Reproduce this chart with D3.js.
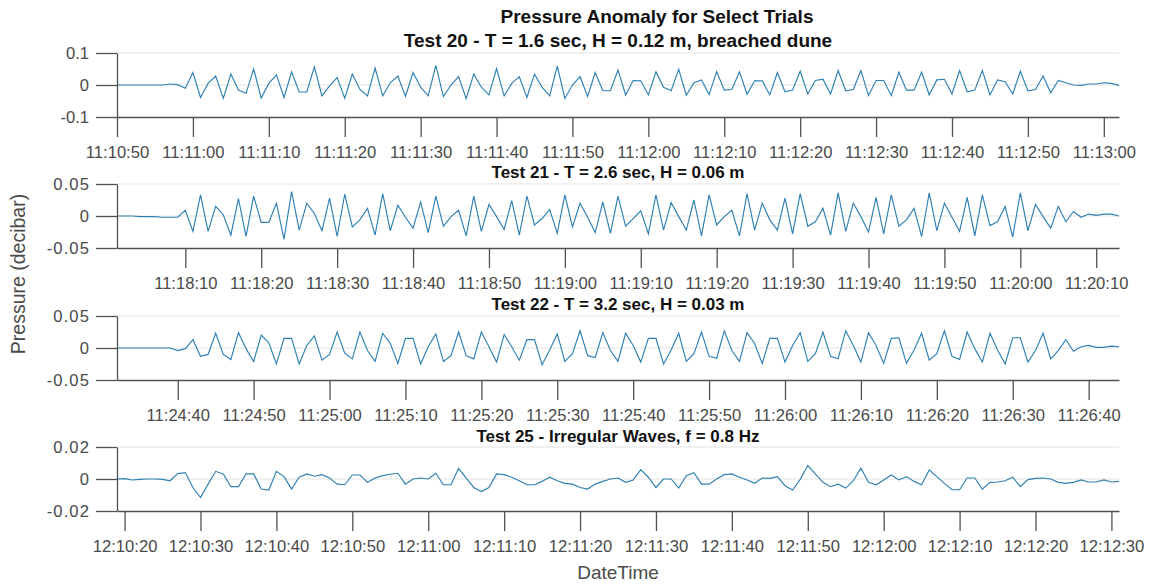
<!DOCTYPE html>
<html><head><meta charset="utf-8">
<script src="https://cdn.jsdelivr.net/npm/d3@7"></script>
<style>
body{margin:0;background:#fff;}
svg{display:block;font-family:"Liberation Sans",Arial,sans-serif;}
</style></head><body>
<svg id="c" width="1149" height="584"></svg>
<script>
const mainTitle = "Pressure Anomaly for Select Trials";
const panelTitles = [
  "Test 20 - T = 1.6 sec, H = 0.12 m, breached dune",
  "Test 21 - T = 2.6 sec, H = 0.06 m",
  "Test 22 - T = 3.2 sec, H = 0.03 m",
  "Test 25 - Irregular Waves, f = 0.8 Hz"
];
const yAxisTitle = "Pressure (decibar)";
const xAxisTitle = "DateTime";
const startTimes = ["11:10:50", "11:18:01", "11:24:32", "12:10:19"];
const yDomains = [[-0.1, 0.1], [-0.05, 0.05], [-0.05, 0.05], [-0.02, 0.02]];
const yTickValues = [[-0.1, 0, 0.1], [-0.05, 0, 0.05], [-0.05, 0, 0.05], [-0.02, 0, 0.02]];
const yTickLabels = [["-0.1", "0", "0.1"], ["-0.05", "0", "0.05"], ["-0.05", "0", "0.05"], ["-0.02", "0", "0.02"]];
const xTickLabels1 = ["11:10:50","11:11:00","11:11:10","11:11:20","11:11:30","11:11:40","11:11:50","11:12:00","11:12:10","11:12:20","11:12:30","11:12:40","11:12:50","11:13:00"];
const xTickLabels2 = ["11:18:10","11:18:20","11:18:30","11:18:40","11:18:50","11:19:00","11:19:10","11:19:20","11:19:30","11:19:40","11:19:50","11:20:00","11:20:10"];
const xTickLabels3 = ["11:24:40","11:24:50","11:25:00","11:25:10","11:25:20","11:25:30","11:25:40","11:25:50","11:26:00","11:26:10","11:26:20","11:26:30","11:26:40"];
const xTickLabels4 = ["12:10:20","12:10:30","12:10:40","12:10:50","12:11:00","12:11:10","12:11:20","12:11:30","12:11:40","12:11:50","12:12:00","12:12:10","12:12:20","12:12:30"];

const test20 = [0,0,0,0,0,0,0,0.003,0.001,-0.010,
0.039,-0.039,0.005,0.028,-0.042,0.034,-0.016,-0.026,0.050,-0.041,
0.005,0.032,-0.039,0.041,-0.022,-0.022,0.057,-0.034,-0.003,0.023,
-0.041,0.034,-0.014,-0.034,0.053,-0.034,0.007,0.028,-0.036,0.039,
-0.007,-0.034,0.061,-0.036,0.000,0.026,-0.043,0.034,-0.007,-0.031,
0.051,-0.034,0.005,0.026,-0.039,0.034,-0.007,-0.034,0.059,-0.042,
0.000,0.026,-0.036,0.039,-0.018,-0.018,0.047,-0.031,0.014,0.013,
-0.031,0.041,-0.007,-0.018,0.049,-0.032,0.007,0.016,-0.030,0.042,
-0.016,-0.014,0.041,-0.029,0.013,0.013,-0.031,0.039,-0.021,-0.016,
0.043,-0.028,0.014,0.018,-0.028,0.045,-0.018,-0.014,0.045,-0.033,
0.014,0.014,-0.033,0.040,-0.016,-0.016,0.040,-0.031,0.016,0.018,
-0.028,0.045,-0.021,-0.016,0.045,-0.031,0.016,0.010,-0.028,0.043,
-0.018,-0.014,0.028,-0.024,0.014,0.007,0.000,-0.001,0.003,0.003,
0.007,0.005,-0.001];

const test21 = [0,0,0,-0.001,-0.001,-0.001,-0.002,-0.002,-0.002,0.009,
-0.024,0.033,-0.024,0.015,0.002,-0.030,0.027,-0.032,0.031,-0.010,
-0.010,0.020,-0.036,0.038,-0.022,0.020,0.004,-0.023,0.028,-0.032,
0.034,-0.017,-0.006,0.012,-0.030,0.035,-0.023,0.017,-0.002,-0.019,
0.022,-0.026,0.031,-0.016,-0.001,0.009,-0.031,0.031,-0.024,0.018,
-0.001,-0.021,0.024,-0.030,0.031,-0.014,-0.004,0.010,-0.027,0.033,
-0.017,0.020,-0.002,-0.026,0.022,-0.027,0.031,-0.016,-0.004,0.008,
-0.028,0.033,-0.022,0.021,-0.001,-0.022,0.025,-0.031,0.033,-0.014,
-0.001,0.009,-0.031,0.035,-0.022,0.020,-0.006,-0.022,0.028,-0.028,
0.035,-0.016,-0.009,0.012,-0.030,0.036,-0.024,0.020,-0.001,-0.025,
0.029,-0.028,0.033,-0.016,-0.006,0.012,-0.032,0.036,-0.023,0.020,
-0.002,-0.024,0.029,-0.031,0.033,-0.015,-0.009,0.015,-0.033,0.036,
-0.023,0.018,-0.001,-0.019,0.015,-0.009,0.007,-0.002,0.003,0.001,
0.003,0.003,0.000];

const test22 = [0,0,0,0,0,0,0,0,-0.004,-0.001,
0.013,-0.013,-0.010,0.023,-0.010,-0.018,0.024,-0.001,-0.021,0.020,
0.008,-0.025,0.015,0.015,-0.025,0.004,0.019,-0.019,-0.010,0.025,
-0.008,-0.017,0.025,-0.004,-0.021,0.023,0.007,-0.024,0.015,0.015,
-0.025,0.002,0.022,-0.021,-0.012,0.025,-0.012,-0.017,0.025,0.002,
-0.022,0.021,0.002,-0.019,0.013,0.013,-0.026,-0.003,0.022,-0.021,
-0.009,0.027,-0.012,-0.015,0.024,-0.004,-0.021,0.023,0.004,-0.022,
0.015,0.015,-0.025,-0.003,0.023,-0.021,-0.009,0.025,-0.013,-0.016,
0.027,-0.004,-0.021,0.024,0.007,-0.024,0.015,0.015,-0.022,0.004,
0.024,-0.021,-0.009,0.025,-0.013,-0.017,0.027,0.004,-0.022,0.024,
0.004,-0.024,0.015,0.016,-0.024,-0.003,0.023,-0.019,-0.009,0.027,
-0.013,-0.018,0.025,-0.001,-0.022,0.023,-0.003,-0.025,0.016,0.016,
-0.022,-0.004,0.023,-0.017,-0.004,0.013,-0.005,0.002,0.004,0.001,
0.001,0.003,0.002];

const test25 = [0,0.0002,-0.0006,-0.0002,0,0,-0.0002,-0.0011,0.0034,0.0040,
-0.0053,-0.0116,-0.0032,0.0048,0.0032,-0.0048,-0.0048,0.0032,0.0032,-0.0063,
-0.0069,0.0048,0.0015,-0.0063,0.0011,0.0032,0.0017,0.0027,0.0006,-0.0032,
-0.0036,0.0025,0.0025,-0.0021,0.0006,0.0021,0.0030,0.0036,-0.0032,0,
0.0006,0,0.0036,-0.0036,-0.0036,0.0067,0.0006,-0.0053,-0.0078,-0.0053,
0.0032,0.0027,0.0011,-0.0011,-0.0036,-0.0036,-0.0015,0.0011,-0.0011,-0.0027,
-0.0032,-0.0053,-0.0063,-0.0032,-0.0015,0,0.0006,-0.0021,-0.0006,0.0059,
0.0011,-0.0053,0,0,-0.0057,0.0021,0.0040,-0.0032,-0.0032,0,
0.0027,0.0032,0.0011,-0.0006,-0.0027,0.0006,0.0004,0.0015,-0.0042,-0.0069,
-0.0002,0.0084,0.0032,-0.0021,-0.0048,-0.0032,-0.0057,-0.0011,0.0067,-0.0021,
-0.0036,-0.0006,0.0025,-0.0006,0.0015,-0.0015,-0.0036,0.0057,0.0015,-0.0027,
-0.0067,-0.0067,0.0006,0.0006,-0.0063,-0.0021,-0.0019,-0.0011,0.0011,-0.0048,
-0.0004,0.0004,0.0006,0,-0.0021,-0.0027,-0.0021,-0.0006,-0.0019,-0.0019,
-0.0006,-0.0019,-0.0015];

const series = [test20, test21, test22, test25];
const xTickLabels = [xTickLabels1, xTickLabels2, xTickLabels3, xTickLabels4];

// ---- layout ----
const left = 117, right = 1119;
const panelTops = [53, 184, 316, 447];
const panelH = 64;
const titleBaselines = [47, 178, 310, 441.5];
const axisColor = "#505050", textColor = "#4a4a4a", gridColor = "#e4e4e4", lineColor = "#2f80b2";

const svg = d3.select("#c");
const parse = d3.utcParse("%H:%M:%S");
const fmt = d3.utcFormat("%H:%M:%S");

svg.append("text").attr("x", 657).attr("y", 23).attr("text-anchor", "middle")
  .attr("font-size", 19).attr("font-weight", "bold").attr("fill", "#111").text(mainTitle);

series.forEach((vals, k) => {
  const t0 = parse(startTimes[k]);
  const data = vals.map((v, i) => ({ t: d3.utcSecond.offset(t0, i), v }));
  const x = d3.scaleUtc().domain([t0, d3.utcSecond.offset(t0, vals.length - 1)]).range([left, right]);
  const y = d3.scaleLinear().domain(yDomains[k]).range([panelTops[k] + panelH, panelTops[k]]);
  const g = svg.append("g");

  // grid lines (top and zero)
  g.selectAll("line.grid").data(yTickValues[k].filter(v => v >= 0)).join("line")
    .attr("class", "grid")
    .attr("x1", left).attr("x2", right)
    .attr("y1", d => y(d)).attr("y2", d => y(d))
    .attr("stroke", gridColor).attr("stroke-width", 1.2);

  // series line
  g.append("path").datum(data)
    .attr("d", d3.line().x(d => x(d.t)).y(d => y(d.v)))
    .attr("fill", "none").attr("stroke", lineColor).attr("stroke-width", 1.15)
    .attr("stroke-linejoin", "miter");

  // y axis
  const ya = g.append("g").attr("transform", `translate(${left},0)`)
    .call(d3.axisLeft(y).tickValues(yTickValues[k]).tickFormat((d, i) => yTickLabels[k][i])
      .tickSize(21).tickSizeOuter(0).tickPadding(k === 0 ? 7 : 6));
  // x axis
  const xa = g.append("g").attr("transform", `translate(0,${panelTops[k] + panelH})`)
    .call(d3.axisBottom(x).tickValues(xTickLabels[k].map(parse)).tickFormat(fmt)
      .tickSize(20).tickSizeOuter(0).tickPadding(9.3));
  [ya, xa].forEach(a => {
    a.attr("font-family", null).attr("font-size", null).attr("color", axisColor);
    a.selectAll("path.domain, .tick line").attr("stroke-width", 1.3);
    a.selectAll("text").attr("font-size", 16.6).attr("fill", textColor);
  });
  if (k > 0) ya.selectAll("text").attr("letter-spacing", 1.1);

  // panel title
  svg.append("text").attr("x", (left + right) / 2).attr("y", titleBaselines[k])
    .attr("text-anchor", "middle").attr("font-weight", "bold")
    .attr("font-size", k === 0 ? 19 : 17).attr("fill", "#111").text(panelTitles[k]);
});

svg.append("text").attr("transform", "translate(24.5,274) rotate(-90)")
  .attr("text-anchor", "middle").attr("font-size", 19.5).attr("fill", textColor).text(yAxisTitle);
svg.append("text").attr("x", (left + right) / 2).attr("y", 578.5)
  .attr("text-anchor", "middle").attr("font-size", 19).attr("fill", textColor).text(xAxisTitle);
</script>
</body></html>
